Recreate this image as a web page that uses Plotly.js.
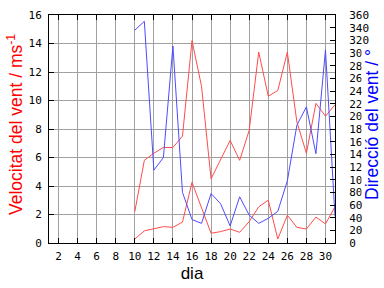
<!DOCTYPE html>
<html><head><meta charset="utf-8">
<script src="https://cdn.plot.ly/plotly-3.0.1.min.js"></script>
<style>html,body{margin:0;padding:0;background:#fff}#c{width:384px;height:288px}</style>
</head><body><div id="c"></div>
<script>
const days = [10,11,12,13,14,15,16,17,18,19,20,21,22,23,24,25,26,27,28,29,30,31];
const windMax = [2.2,5.8,6.3,6.7,6.7,7.5,14.2,11.0,4.5,5.9,7.2,5.8,7.9,13.4,10.3,10.7,13.4,8.5,6.3,9.8,8.9,9.7];
const windMean = [0.28,0.85,1.0,1.15,1.1,1.47,4.26,2.44,0.68,0.8,0.98,0.75,1.5,2.54,3.0,0.28,1.95,1.1,0.98,1.82,1.34,2.54];
const windDir = [336,350,115,135,311,80,37,31,78,62,27,73,44,31,39,50,98,186,215,141,305,42];
const xTicks = [2,4,6,8,10,12,14,16,18,20,22,24,26,28,30];

const tickFont = {family:'DejaVu Sans Mono', size:11, color:'#000'};
const traces = [
  {x:days, y:windMax, type:'scatter', mode:'lines', line:{color:'#ff4c4c', width:1}, yaxis:'y'},
  {x:days, y:windMean, type:'scatter', mode:'lines', line:{color:'#ff4c4c', width:1}, yaxis:'y'},
  {x:days, y:windDir, type:'scatter', mode:'lines', line:{color:'#4c4cff', width:1}, yaxis:'y2'}
];
const layout = {
  width:384, height:288,
  margin:{l:49, r:49, t:15, b:45},
  paper_bgcolor:'#fff', plot_bgcolor:'#fff',
  showlegend:false,
  xaxis:{range:[1,31], tickvals:xTicks, ticks:'inside', ticklen:5, tickcolor:'#000',
    showline:true, linecolor:'#000', linewidth:1, mirror:'ticks',
    showgrid:true, gridcolor:'#a0a0a0', gridwidth:1, zeroline:false,
    tickfont:tickFont, ticklabelstandoff:3,
    title:{text:'dia', font:{family:'Liberation Sans', size:17, color:'#000'}, standoff:4}},
  yaxis:{range:[0,16], dtick:2, ticks:'inside', ticklen:5, tickcolor:'#000',
    showline:true, linecolor:'#000', linewidth:1, mirror:true,
    showgrid:true, gridcolor:'#a0a0a0', gridwidth:1, zeroline:false,
    tickfont:tickFont, ticklabelstandoff:4},
  yaxis2:{range:[0,360], dtick:20, overlaying:'y', side:'right', ticks:'inside', ticklen:5, tickcolor:'#000',
    showline:true, linecolor:'#000', linewidth:1,
    showgrid:false, zeroline:false, tickfont:tickFont, ticklabelstandoff:11},
  annotations:[
    {text:'Velocitat del vent / ms<sup>-1</sup>', xref:'paper', yref:'paper', x:-0.117, y:0.52,
     xanchor:'center', yanchor:'middle', textangle:-90, showarrow:false,
     font:{family:'Liberation Sans', size:17.5, color:'#ff0000'}},
    {text:'Direcció del vent / °', xref:'paper', yref:'paper', x:1.131, y:0.52,
     xanchor:'center', yanchor:'middle', textangle:-90, showarrow:false,
     bgcolor:'#ffffff', borderpad:0,
     font:{family:'Liberation Sans', size:17.5, color:'#0000ff'}}
  ]
};
Plotly.newPlot('c', traces, layout, {staticPlot:true, displayModeBar:false});
</script></body></html>
